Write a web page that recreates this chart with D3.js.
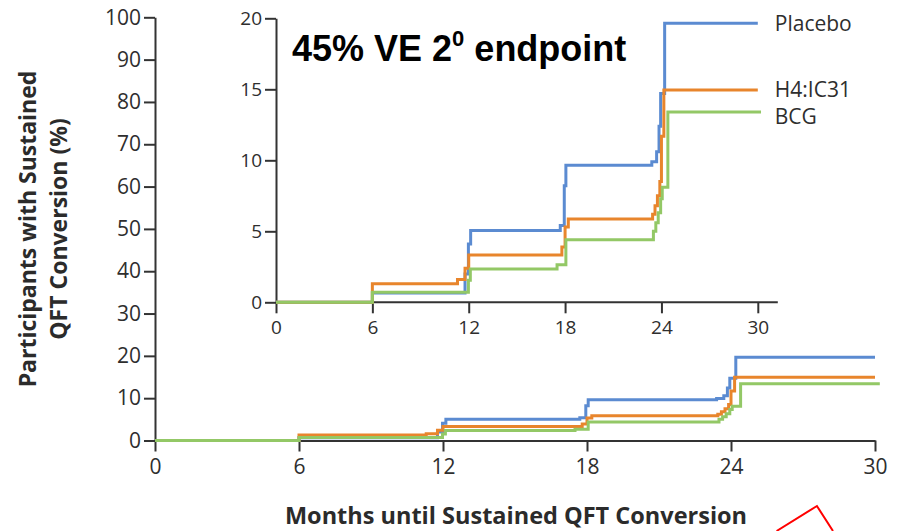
<!DOCTYPE html>
<html>
<head>
<meta charset="utf-8">
<script src="https://cdn.jsdelivr.net/npm/d3@7"></script>
<style>
  html, body { margin: 0; padding: 0; background: #ffffff; }
  svg { display: block; }
  .tick text { fill: #2e2e2e; font-family: "Open Sans", "Noto Sans", sans-serif; }
  .axis path, .axis line { stroke: #333333; stroke-width: 2; }
</style>
</head>
<body>
<svg id="chart" width="900" height="531"></svg>
<script>
// Kaplan-Meier style cumulative incidence (%) of sustained QFT conversion
const seriesNames = ["Placebo", "H4:IC31", "BCG"];
const seriesColors = ["#5b8bd1", "#e8852c", "#93c866"];

const placeboMonths = [0, 6.0, 11.77, 11.98, 12.12, 17.7, 17.95, 18.05, 23.4, 23.7, 23.85, 23.95, 24.2, 30];
const placeboPct    = [0, 0.65, 2.0, 4.1, 5.05, 5.4, 8.2, 9.65, 9.9, 10.6, 12.4, 14.7, 19.65, 19.65];

const h4Months = [0, 6.0, 11.3, 11.77, 12.0, 17.8, 18.0, 18.2, 23.45, 23.6, 23.75, 23.9, 24.0, 24.15, 30];
const h4Pct    = [0, 1.3, 1.6, 2.4, 3.33, 3.9, 5.3, 5.87, 6.2, 6.8, 7.5, 8.5, 11.7, 14.95, 14.95];

const bcgMonths = [0, 6.0, 11.98, 12.1, 17.5, 18.05, 23.5, 23.65, 23.8, 23.95, 24.05, 24.4, 30.2];
const bcgPct    = [0, 0.7, 1.55, 2.35, 2.65, 4.4, 5.0, 5.6, 6.3, 7.3, 8.1, 13.4, 13.4];

const mainTicksX = [0, 6, 12, 18, 24, 30];
const mainTicksY = [0, 10, 20, 30, 40, 50, 60, 70, 80, 90, 100];
const insetTicksY = [0, 5, 10, 15, 20];

const titleText = "45% VE 2";
const titleSup = "0";
const titleTail = " endpoint";
const xLabel = "Months until Sustained QFT Conversion";
const yLabelLines = ["Participants with Sustained", "QFT Conversion (%)"];

const series = [
  { name: seriesNames[0], color: seriesColors[0], pts: placeboMonths.map((m, i) => [m, placeboPct[i]]) },
  { name: seriesNames[1], color: seriesColors[1], pts: h4Months.map((m, i) => [m, h4Pct[i]]) },
  { name: seriesNames[2], color: seriesColors[2], pts: bcgMonths.map((m, i) => [m, bcgPct[i]]) }
];

const svg = d3.select("#chart");
const font = '"Open Sans", "Noto Sans", sans-serif';

// ---------- main panel ----------
const x = d3.scaleLinear().domain([0, 30]).range([155, 875]);
const y = d3.scaleLinear().domain([0, 100]).range([440.5, 17.3]);

const step = (xs, ys) => d3.line().x(d => xs(d[0])).y(d => ys(d[1])).curve(d3.curveStepAfter);

const main = svg.append("g");

main.append("g").attr("class", "axis")
  .attr("transform", `translate(0,${y(0)})`)
  .call(d3.axisBottom(x).tickValues(mainTicksX).tickSize(11).tickSizeOuter(0).tickPadding(8))
  .call(g => g.selectAll(".tick text").attr("font-size", 21));

main.append("g").attr("class", "axis")
  .attr("transform", `translate(${x(0)},0)`)
  .call(d3.axisLeft(y).tickValues(mainTicksY).tickSize(11).tickSizeOuter(0).tickPadding(3))
  .call(g => g.selectAll(".tick text").attr("font-size", 21));

const lineMain = step(x, y);
main.selectAll("path.km").data(series).join("path")
  .attr("class", "km")
  .attr("d", d => lineMain(d.pts))
  .attr("fill", "none")
  .attr("stroke", d => d.color)
  .attr("stroke-width", 3);

// axis titles
svg.append("text")
  .attr("x", 516).attr("y", 524)
  .attr("text-anchor", "middle")
  .attr("font-family", font).attr("font-weight", 700)
  .attr("font-size", 23.5).attr("fill", "#2b2b2b")
  .text(xLabel);

const yl = svg.append("g").attr("transform", "translate(0,229) rotate(-90)");
yl.selectAll("text").data(yLabelLines).join("text")
  .attr("x", 0)
  .attr("y", (d, i) => 36 + i * 31)
  .attr("text-anchor", "middle")
  .attr("font-family", font).attr("font-weight", 700)
  .attr("font-size", 23).attr("fill", "#2b2b2b")
  .text(d => d);

// ---------- inset panel ----------
const xi = d3.scaleLinear().domain([0, 30]).range([276, 757.8]);
const yi = d3.scaleLinear().domain([0, 20]).range([302.3, 18.3]);

const inset = svg.append("g");

inset.append("g").attr("class", "axis")
  .attr("transform", `translate(0,${yi(0)})`)
  .call(d3.axisBottom(xi).tickValues(mainTicksX).tickSize(11).tickSizeOuter(0).tickPadding(7))
  .call(g => g.select(".domain").remove())
  .call(g => g.selectAll(".tick text").attr("font-size", 19));

inset.append("line")
  .attr("x1", xi(0)).attr("x2", xi.range()[1] + 20)
  .attr("y1", yi(0)).attr("y2", yi(0))
  .attr("stroke", "#333333").attr("stroke-width", 2);

inset.append("g").attr("class", "axis")
  .attr("transform", `translate(${xi(0)},0)`)
  .call(d3.axisLeft(yi).tickValues(insetTicksY).tickSize(11).tickSizeOuter(0).tickPadding(3))
  .call(g => g.selectAll(".tick text").attr("font-size", 19));

const lineInset = step(xi, yi);
inset.selectAll("path.km").data(series).join("path")
  .attr("class", "km")
  .attr("d", d => lineInset(d.pts))
  .attr("fill", "none")
  .attr("stroke", d => d.color)
  .attr("stroke-width", 3);

// series labels at the end of each curve
const labelNudge = [0, 0, 4.5];
inset.selectAll("text.lbl").data(series).join("text")
  .attr("class", "lbl")
  .attr("x", xi(30) + 17)
  .attr("y", (d, i) => yi(d.pts[d.pts.length - 1][1]) + labelNudge[i])
  .attr("dy", "0.35em")
  .attr("font-family", font).attr("font-size", 21)
  .attr("fill", "#2e2e2e")
  .text(d => d.name);

// headline
const t = svg.append("text")
  .attr("x", 292).attr("y", 61)
  .attr("font-family", "Arial, 'Liberation Sans', sans-serif")
  .attr("font-weight", 700).attr("font-size", 36).attr("fill", "#000");
t.append("tspan").text(titleText);
t.append("tspan").attr("dy", -15).attr("font-size", 22).text(titleSup);
t.append("tspan").attr("dy", 15).text(titleTail);

// red callout strokes, lower right
svg.append("path")
  .attr("d", `M${x(25.9)},531 L${x(27.58)},506 L${x(28.25)},531`)
  .attr("fill", "none").attr("stroke", "#ff0000").attr("stroke-width", 2);
</script>
</body>
</html>
